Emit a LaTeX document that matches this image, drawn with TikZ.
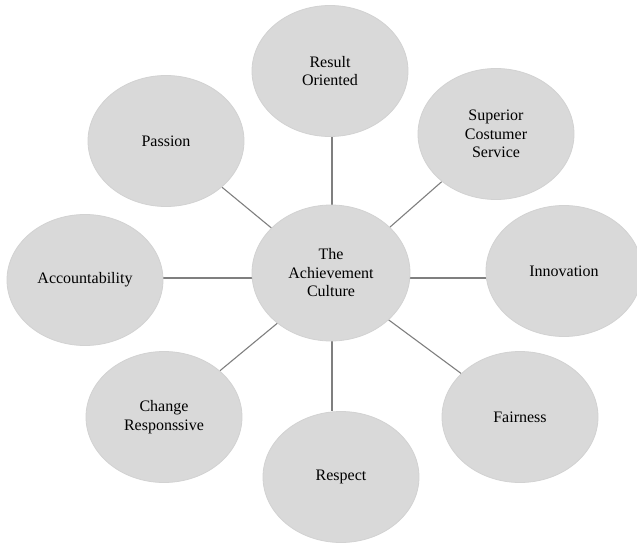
\documentclass[tikz,border=0pt]{standalone}
\usepackage{fontspec}
\setmainfont{Liberation Serif}
\usetikzlibrary{shapes.geometric,backgrounds}
\definecolor{bubblegray}{HTML}{D9D9D9}
\definecolor{rimgray}{HTML}{D2D2D2}
\definecolor{linkgray}{HTML}{7F7F7F}

\begin{document}
\begin{tikzpicture}[x=1pt,y=-1pt,text centered]
  \tikzset{
    bubble/.style={ellipse,fill=bubblegray,draw=rimgray,line width=0.8pt,
      minimum width=156pt,minimum height=131pt,inner sep=0pt,align=center,
      font=\fontsize{16}{18.5}\selectfont},
    hub/.style={bubble,minimum width=158pt,minimum height=136pt},
    link/.style={linkgray,line width=1.1pt}
  }
  \useasboundingbox (0,0) rectangle (637,543);

  \node[hub] (culture) at (331,273) {The\\Achievement\\Culture};
  \coordinate (hubc) at (332,278);

  \node[bubble] (result) at (330,71) {Result\\Oriented};
  \node[bubble] (superior) at (496,134) {Superior\\Costumer\\Service};
  \node[bubble] (innovation) at (564,271) {Innovation};
  \node[bubble] (fairness) at (520,417) {Fairness};
  \node[bubble] (respect) at (341,477) {Respect};
  \node[bubble] (change) at (164,417) {Change\\Responssive};
  \node[bubble] (account) at (85,280) {Accountability};
  \node[bubble] (passion) at (166,141) {Passion};

  \begin{scope}[on background layer]
    \draw[link] (hubc) -- (hubc |- result.south);
    \draw[link] (hubc) -- (hubc |- respect.north);
    \draw[link] (hubc) -- (hubc -| innovation.west);
    \draw[link] (hubc) -- (hubc -| account.east);
    \foreach \n in {superior,fairness,change,passion}
      \draw[link] (hubc) -- (\n);
  \end{scope}

\end{tikzpicture}
\end{document}
